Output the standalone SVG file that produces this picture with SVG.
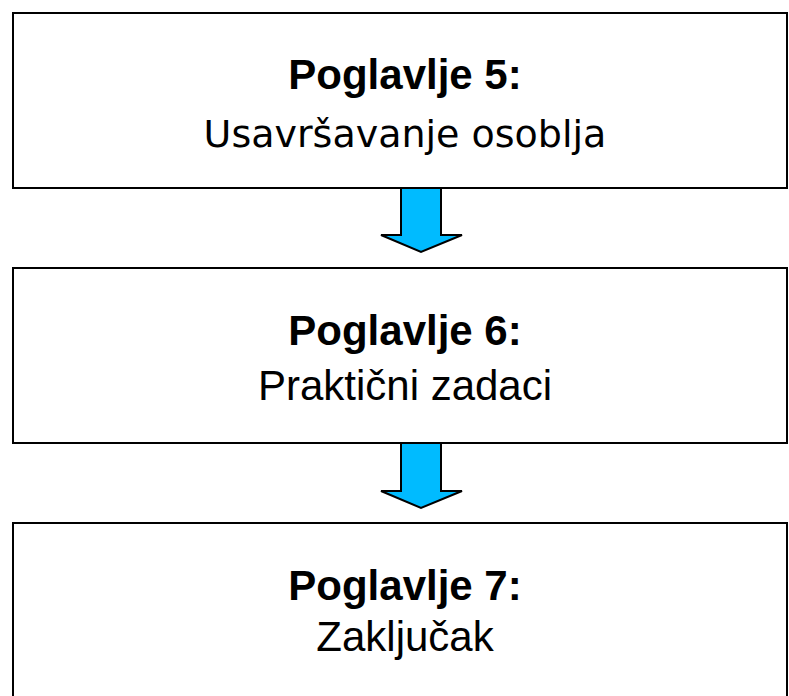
<svg xmlns="http://www.w3.org/2000/svg" width="789" height="696" viewBox="0 0 789 696">
<style>
.box{fill:#fff;stroke:#000;stroke-width:2}
.t{font-family:"Liberation Sans",Arial,sans-serif;font-size:42px;fill:#000;text-anchor:middle}
.b{font-weight:bold}
.v{font-family:"DejaVu Sans",Verdana,sans-serif;font-size:38px}
.arr{fill:#00BBFF;stroke:#000;stroke-width:2;stroke-linejoin:miter}
</style>
<rect width="789" height="696" fill="#fff"/>
<g id="node1">
<rect class="box" x="13" y="13" width="774" height="175"/>
<text class="t b" x="405" y="89">Poglavlje 5:</text>
<text class="t v" x="405" y="147">Usavršavanje osoblja</text>
</g>
<g id="node2">
<rect class="box" x="13" y="268" width="774" height="175"/>
<text class="t b" x="405" y="345">Poglavlje 6:</text>
<text class="t" x="405" y="400">Praktični zadaci</text>
</g>
<g id="node3">
<rect class="box" x="13" y="523" width="774" height="190"/>
<text class="t b" x="405" y="600">Poglavlje 7:</text>
<text class="t" x="405" y="651">Zaključak</text>
</g>
<g id="connectors">
<path class="arr" d="M401,188 L441,188 L441,235 L462,235 L421,252 L381,235 L401,235 Z"/>
<path class="arr" d="M401,443 L441,443 L441,491 L462,491 L421,508 L381,491 L401,491 Z"/>
</g>
</svg>
